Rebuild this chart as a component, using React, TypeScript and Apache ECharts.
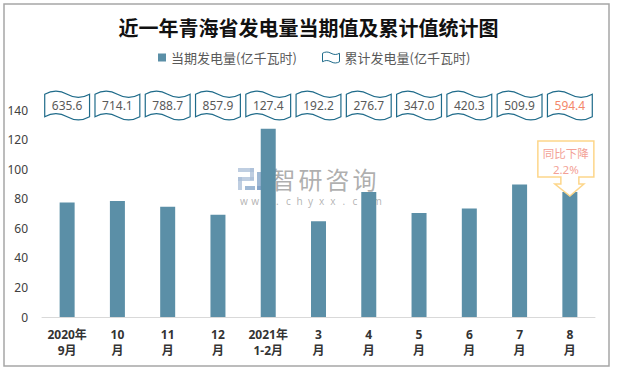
import React, { useEffect, useRef } from 'react';
import * as echarts from 'echarts';

const categories = ['2020年\n9月', '10\n月', '11\n月', '12\n月', '2021年\n1-2月', '3\n月', '4\n月', '5\n月', '6\n月', '7\n月', '8\n月'];
const currentValues = [77.5, 78.5, 74.6, 69.2, 127.4, 64.8, 84.5, 70.3, 73.3, 89.6, 84.5];
const cumulativeValues = [635.6, 714.1, 788.7, 857.9, 127.4, 192.2, 276.7, 347.0, 420.3, 509.9, 594.4];
const calloutLines = ['同比下降', '2.2%'];
const titleText = '近一年青海省发电量当期值及累计值统计图';
const seriesNames = ['当期发电量(亿千瓦时)', '累计发电量(亿千瓦时)'];

const WAVE = 'M0,3 C8,-1.5 15,-1.5 23,3 C31,7.5 38,7.5 46,3 L46,26 C38,30.5 31,30.5 23,26 C15,21.5 8,21.5 0,26 Z';
const FONT = '"Noto Sans", "Noto Sans CJK SC", sans-serif';

export default function App() {
  const ref = useRef<HTMLDivElement>(null);
  useEffect(() => {
    const chart = echarts.init(ref.current!, null, { renderer: 'svg' });
    const last = categories.length - 1;

    const renderItem = (params: any, api: any) => {
      const idx = api.value(0);
      const cx = api.coord([idx, 0])[0];
      const top = params.coordSys.y;
      const children: any[] = [
        {
          type: 'path',
          shape: { pathData: WAVE, x: cx - 23, y: top - 19, width: 46, height: 29 },
          style: { fill: '#fff', stroke: '#1f6b8a', lineWidth: 1.2 },
        },
        {
          type: 'text',
          style: {
            text: Number(api.value(1)).toFixed(1),
            x: cx,
            y: top - 4.5,
            align: 'center',
            verticalAlign: 'middle',
            fill: idx === last ? '#f4876b' : '#595959',
            fontSize: 12,
            fontFamily: FONT,
          },
        },
      ];
      if (idx === last) {
        const barTop = api.coord([idx, currentValues[idx]]);
        const tipY = barTop[1] + 4;
        const L = cx - 32, R = cx + 24, T = tipY - 55, B = tipY - 19;
        children.push({
          type: 'polygon',
          shape: {
            points: [
              [L, T], [R, T], [R, B], [cx + 9, B], [cx + 9, tipY - 12], [cx + 14, tipY - 12],
              [cx, tipY], [cx - 15, tipY - 12], [cx - 9, tipY - 12], [cx - 9, B], [L, B],
            ],
          },
          style: { fill: '#fff', stroke: '#fdd68a', lineWidth: 1.5 },
        });
        calloutLines.forEach((t, i) => {
          children.push({
            type: 'text',
            style: {
              text: t,
              x: (L + R) / 2,
              y: T + 12 + i * 16.5,
              align: 'center',
              verticalAlign: 'middle',
              fill: '#f3a196',
              fontSize: 11.5,
              fontFamily: FONT,
            },
          });
        });
      }
      return { type: 'group', children };
    };

    const brandChars = '智研咨询'.split('');
    const urlChars = 'www.chyxx.com'.split('');
    const logoA = 'rgba(170,190,215,0.75)';
    const logoB = 'rgba(120,155,195,0.7)';
    const watermark: any[] = [
      { type: 'rect', shape: { x: 238, y: 168, width: 16, height: 4 }, style: { fill: logoA } },
      { type: 'rect', shape: { x: 250, y: 168, width: 4, height: 12 }, style: { fill: logoA } },
      { type: 'rect', shape: { x: 238, y: 177, width: 16, height: 4 }, style: { fill: logoA } },
      { type: 'rect', shape: { x: 238, y: 177, width: 4, height: 13 }, style: { fill: logoA } },
      { type: 'rect', shape: { x: 245, y: 186, width: 10, height: 4 }, style: { fill: logoB } },
      { type: 'rect', shape: { x: 257, y: 172, width: 4, height: 18 }, style: { fill: logoB } },
      { type: 'rect', shape: { x: 257, y: 186, width: 12, height: 4 }, style: { fill: logoB } },
      ...brandChars.map((ch, i) => ({
        type: 'text', x: 283.5 + i * 27, y: 178,
        style: { text: ch, fill: 'rgba(140,140,140,0.7)', fontSize: 24, fontFamily: '"Noto Sans CJK SC", sans-serif', align: 'center', verticalAlign: 'middle' },
      })),
      ...urlChars.map((ch, i) => ({
        type: 'text', x: 244 + i * 11.1, y: 201,
        style: { text: ch, fill: 'rgba(150,150,150,0.7)', fontSize: 10, fontFamily: FONT, align: 'center', verticalAlign: 'middle' },
      })),
    ];

    chart.setOption({
      animation: false,
      textStyle: { fontFamily: FONT },
      title: {
        text: titleText,
        left: 'center',
        top: 12,
        textStyle: { fontSize: 20, fontWeight: 'bold', color: '#111', fontFamily: '"Noto Sans CJK SC", serif' },
      },
      legend: [
        {
          data: [{ name: seriesNames[0], icon: 'rect' }],
          left: 153,
          top: 46,
          itemWidth: 8,
          itemHeight: 8,
          textStyle: { fontSize: 13, color: '#595959', fontFamily: '"Noto Sans CJK SC", sans-serif' },
        },
        {
          data: [{ name: seriesNames[1], icon: 'path://' + WAVE, itemStyle: { color: '#fff', borderColor: '#1f6b8a', borderWidth: 1 } }],
          left: 317,
          top: 46,
          itemWidth: 17,
          itemHeight: 13,
          textStyle: { fontSize: 13, color: '#595959', fontFamily: '"Noto Sans CJK SC", sans-serif' },
        },
      ],
      grid: { left: 42, right: 22, top: 110, bottom: 54, containLabel: false },
      xAxis: {
        type: 'category',
        data: categories,
        axisLine: { lineStyle: { color: '#d9d9d9', width: 1 } },
        axisTick: { show: false },
        axisLabel: { fontSize: 12, fontWeight: 'bold', color: '#333', lineHeight: 16, margin: 9, interval: 0 },
      },
      yAxis: {
        type: 'value',
        min: 0,
        max: 140,
        interval: 20,
        axisLine: { show: false },
        axisTick: { show: false },
        splitLine: { show: false },
        axisLabel: { fontSize: 12, color: '#404040', margin: 14 },
      },
      series: [
        {
          name: seriesNames[0],
          type: 'bar',
          data: currentValues,
          barWidth: 15,
          itemStyle: { color: '#5b8fa7' },
        },
        {
          name: seriesNames[1],
          type: 'custom',
          data: cumulativeValues.map((v, i) => [i, v]),
          encode: { x: 0, y: 1 },
          renderItem,
          itemStyle: { color: '#1f6b8a' },
          z: 5,
        },
      ],
      graphic: [
        {
          type: 'rect',
          shape: { x: 4, y: 4, width: 605, height: 362 },
          style: { fill: 'none', stroke: '#a6a6a6', lineWidth: 1.5 },
          z: 0,
        },
        { type: 'group', children: watermark, z: 50 },
      ],
    });
    return () => chart.dispose();
  }, []);
  return <div ref={ref} style={{ position: 'fixed', left: 0, top: 0, width: 617, height: 371, background: '#fff' }} />;
}
